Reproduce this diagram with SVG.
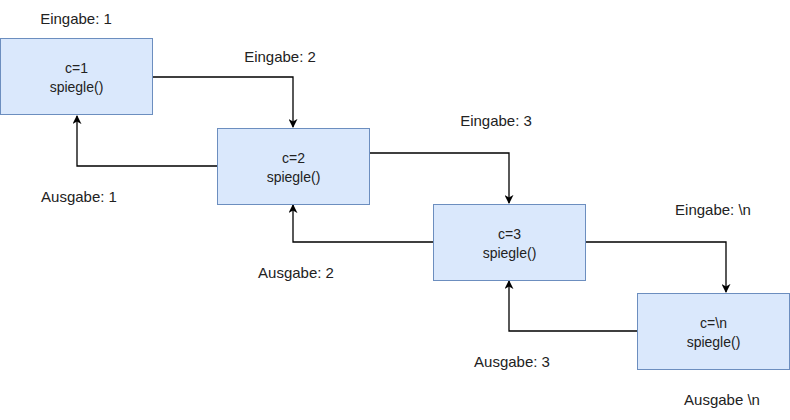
<svg xmlns="http://www.w3.org/2000/svg" width="790" height="420" viewBox="0 0 790 420">
<style>
.box{fill:#dae8fc;stroke:#6c8ebf;stroke-width:1}
.t{font-family:"Liberation Sans",Arial,sans-serif;font-size:14px;fill:#222;text-anchor:middle}
.l{font-size:15px}
.c{fill:none;stroke:#000;stroke-width:1.3}
</style>
<defs>
<marker id="ah" viewBox="0 0 10 10" refX="9" refY="5" markerWidth="9" markerHeight="9" markerUnits="userSpaceOnUse" orient="auto">
<path d="M0,0 L10,5 L0,10 L3,5 Z" fill="#000"/>
</marker>
</defs>
<rect width="790" height="420" fill="#fff"/>
<g id="connectors">
<path class="c" d="M153,77 H293 V127" marker-end="url(#ah)"/>
<path class="c" d="M217,166 H77 V116" marker-end="url(#ah)"/>
<path class="c" d="M369,153 H509 V203" marker-end="url(#ah)"/>
<path class="c" d="M433,242 H293 V205" marker-end="url(#ah)"/>
<path class="c" d="M585,242 H726 V292" marker-end="url(#ah)"/>
<path class="c" d="M637,331 H509 V281" marker-end="url(#ah)"/>
</g>
<g id="node1"><rect class="box" x="0.5" y="38.5" width="152" height="76"/><text class="t" x="76.5" y="73">c=1</text><text class="t" x="76.5" y="92">spiegle()</text></g>
<g id="node2"><rect class="box" x="217.5" y="128.5" width="152" height="76"/><text class="t" x="293.5" y="163">c=2</text><text class="t" x="293.5" y="182">spiegle()</text></g>
<g id="node3"><rect class="box" x="433.5" y="204.5" width="152" height="76"/><text class="t" x="509.5" y="239">c=3</text><text class="t" x="509.5" y="258">spiegle()</text></g>
<g id="node4"><rect class="box" x="637.5" y="293.5" width="152" height="76"/><text class="t" x="713.5" y="328">c=\n</text><text class="t" x="713.5" y="347">spiegle()</text></g>
<g id="labels">
<text class="t l" x="76" y="24">Eingabe: 1</text>
<text class="t l" x="280" y="62">Eingabe: 2</text>
<text class="t l" x="496" y="126">Eingabe: 3</text>
<text class="t l" x="713" y="215">Eingabe: \n</text>
<text class="t l" x="79" y="202">Ausgabe: 1</text>
<text class="t l" x="296" y="278">Ausgabe: 2</text>
<text class="t l" x="512" y="367">Ausgabe: 3</text>
<text class="t l" x="722" y="405">Ausgabe \n</text>
</g>
</svg>
